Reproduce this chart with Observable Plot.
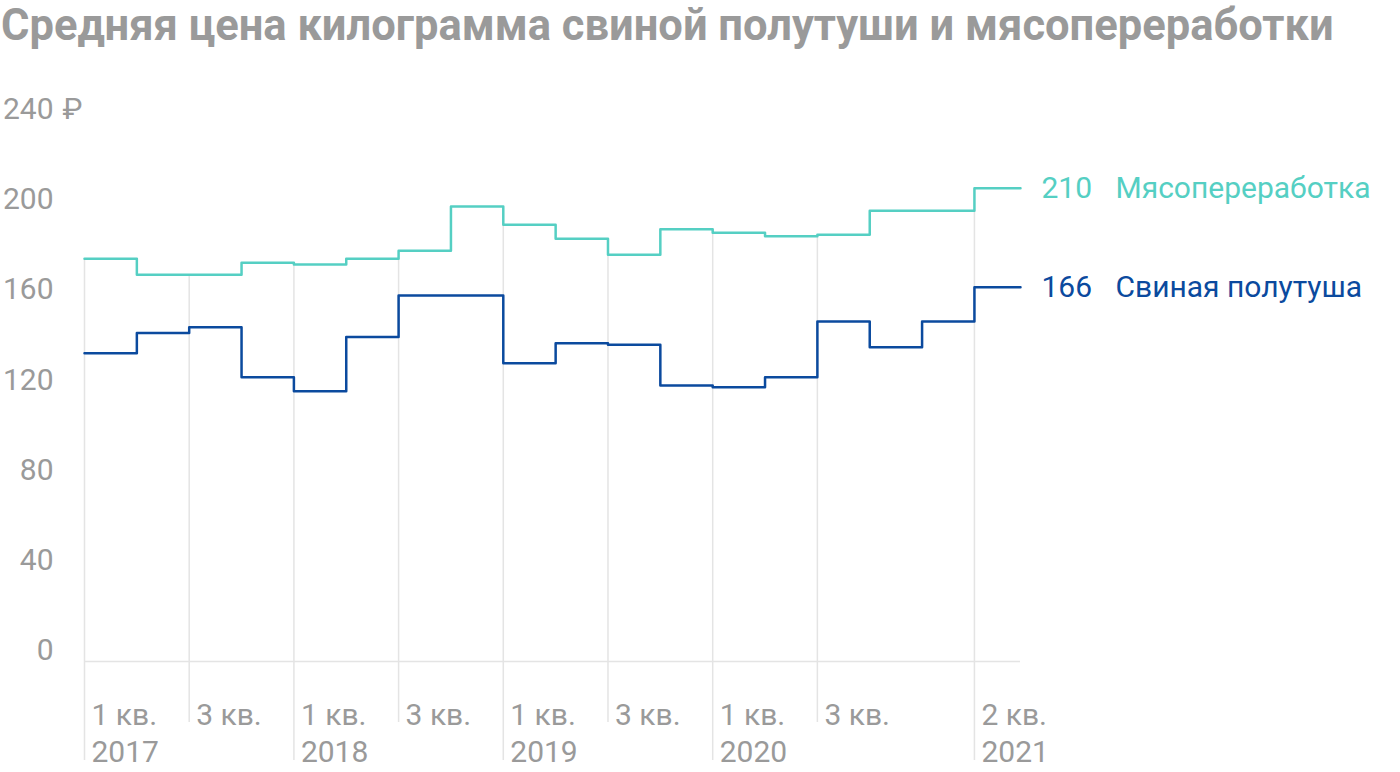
<!DOCTYPE html>
<html>
<head>
<meta charset="utf-8">
<script src="https://cdn.jsdelivr.net/npm/d3@7"></script>
<script src="https://cdn.jsdelivr.net/npm/@observablehq/plot@0.6"></script>
<style>
  html, body { margin: 0; padding: 0; background: #fff; width: 1400px; height: 772px; overflow: hidden; position: relative; }
  #title { position: absolute; left: 1px; top: 0; font-family: Roboto, sans-serif; font-weight: 700; font-size: 43.5px; line-height: 51px; color: #9a9a9a; white-space: nowrap; }
  #chart { position: absolute; left: 0; top: 60px; }
</style>
</head>
<body>
<div id="title">Средняя цена килограмма свиной полутуши и мясопереработки</div>
<div id="chart"></div>
<script>
// Quarters Q1 2017 .. Q2 2021
const periods = ["2017 Q1","2017 Q2","2017 Q3","2017 Q4","2018 Q1","2018 Q2","2018 Q3","2018 Q4",
                 "2019 Q1","2019 Q2","2019 Q3","2019 Q4","2020 Q1","2020 Q2","2020 Q3","2020 Q4",
                 "2021 Q1","2021 Q2"];
const meatProcessing = [178.7,171.6,171.6,176.9,176.1,178.7,182.2,201.9,193.8,187.5,180.4,191.8,190.2,188.6,189.3,200,200,210];
const porkHalfCarcass = [136.8,145.7,148.3,126.1,119.9,144.0,162.4,162.4,132.3,141.2,140.5,122.4,121.7,126.1,150.8,139.4,150.8,166];
const seriesNames = ["Мясопереработка", "Свиная полутуша"];
const seriesColors = ["#55cfc3", "#0b4a9e"];

const tickIndex = [0, 2, 4, 6, 8, 10, 12, 14, 17];
const tickQuarter = ["1 кв.","3 кв.","1 кв.","3 кв.","1 кв.","3 кв.","1 кв.","3 кв.","2 кв."];
const tickYear = ["2017","","2018","","2019","","2020","","2021"];
const yTicks = [0, 40, 80, 120, 160, 200, 240];

const lastEnd = 17.88; // right end of the final step

// build rows
const rows = [];
[meatProcessing, porkHalfCarcass].forEach((vals, s) => {
  vals.forEach((v, i) => rows.push({i, v, series: seriesNames[s]}));
  rows.push({i: lastEnd, v: vals[vals.length - 1], series: seriesNames[s]});
});
const ticks = tickIndex.map((i, k) => ({
  i, q: tickQuarter[k], year: tickYear[k],
  top: i === 0 ? meatProcessing[i] : Math.min(meatProcessing[i], meatProcessing[i - 1])
}));
const ends = seriesNames.map((name, s) => {
  const vals = s === 0 ? meatProcessing : porkHalfCarcass;
  return {name, v: vals[vals.length - 1], color: seriesColors[s]};
});

const gray = "#9a9a9a";
const chart = Plot.plot({
  width: 1400,
  height: 712,
  marginTop: 60,
  marginLeft: 84,
  marginRight: 380,
  marginBottom: 111,
  x: {domain: [0, lastEnd], axis: null},
  y: {domain: [0, 240], axis: null},
  color: {domain: seriesNames, range: seriesColors},
  style: {fontFamily: "Roboto, sans-serif", fontSize: "30px", color: gray, background: "white", overflow: "visible"},
  marks: [
    Plot.ruleX(ticks.filter(d => d.year), {x: "i", y1: "top", y2: 0, insetBottom: -99, stroke: "#e4e4e4", strokeWidth: 1.5}),
    Plot.ruleX(ticks.filter(d => !d.year), {x: "i", y1: "top", y2: 0, insetBottom: -61, stroke: "#e4e4e4", strokeWidth: 1.5}),
    Plot.ruleY([0], {stroke: "#e4e4e4", strokeWidth: 1.5}),
    Plot.line(rows, {x: "i", y: "v", z: "series", stroke: "series", curve: "step-after", strokeWidth: 2.5}),
    Plot.axisY({ticks: yTicks, tickSize: 0, tickPadding: 31, dy: -11, fontSize: 30, fill: gray, tickFormat: d => String(d)}),
    Plot.text([240], {y: d => d, frameAnchor: "left", dx: -22, dy: -11, text: () => "₽", textAnchor: "start", fontSize: 30, fill: gray}),
    Plot.text(ticks, {x: "i", frameAnchor: "bottom", text: d => d.year ? d.q + "\n" + d.year : d.q,
      textAnchor: "start", lineAnchor: "top", dx: 7, dy: 37, lineHeight: 1.23, fontSize: 30, fill: gray}),
    Plot.text(ends, {x: () => lastEnd, y: "v", text: d => String(d.v), textAnchor: "start", dx: 21, fontSize: 30, fill: d => d.color}),
    Plot.text(ends, {x: () => lastEnd, y: "v", text: "name", textAnchor: "start", dx: 95, fontSize: 30, fill: d => d.color})
  ]
});
document.getElementById("chart").appendChild(chart);
</script>
</body>
</html>
